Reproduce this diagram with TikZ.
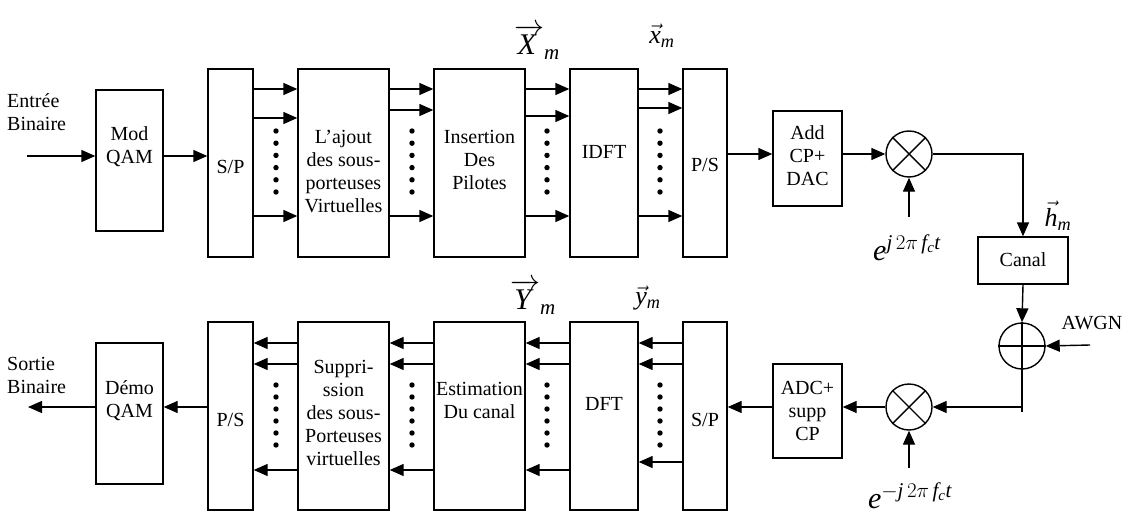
\documentclass[tikz,border=0pt]{standalone}
\usepackage{fix-cm}
\usepackage{fontspec}
\setmainfont{Liberation Serif}
\usetikzlibrary{arrows.meta,calc}
\begin{document}
\begin{tikzpicture}[x=1pt,y=-1pt,
  box/.style={draw, line width=1.4pt, inner sep=0pt},
  txt/.style={align=center, font=\fontsize{20}{23}\selectfont, inner sep=0pt},
  ltxt/.style={align=left, anchor=west, font=\fontsize{20}{23}\selectfont, inner sep=0pt},
  arr/.style={line width=1.4pt, -{Triangle[length=14pt,width=12pt]}},
  ln/.style={line width=1.4pt},
  ring/.style={circle, draw, line width=1.4pt, minimum size=46pt, inner sep=0pt},
  mlab/.style={inner sep=0pt, font=\fontsize{30}{32}\selectfont},
  slab/.style={inner sep=0pt, font=\fontsize{26}{28}\selectfont}]
\useasboundingbox (0,0) rectangle (1124,516);

% ---------- top row boxes ----------
\node[box, minimum width=67pt, minimum height=141pt] (mod) at (129.5,160.5) {};
\node[box, minimum width=45pt, minimum height=188pt] (sp1) at (230.5,163) {};
\node[box, minimum width=91pt, minimum height=188pt] (aj) at (343.5,163) {};
\node[box, minimum width=91pt, minimum height=188pt] (ins) at (479.5,163) {};
\node[box, minimum width=68pt, minimum height=188pt] (idft) at (604,163) {};
\node[box, minimum width=44pt, minimum height=188pt] (ps1) at (705,163) {};
\node[box, minimum width=69pt, minimum height=95pt] (addcp) at (807.5,158.5) {};

% ---------- bottom row boxes ----------
\node[box, minimum width=67pt, minimum height=141pt] (demo) at (129.5,413.5) {};
\node[box, minimum width=45pt, minimum height=188pt] (ps2) at (230.5,416) {};
\node[box, minimum width=91pt, minimum height=188pt] (sup) at (343.5,416) {};
\node[box, minimum width=91pt, minimum height=188pt] (est) at (479.5,416) {};
\node[box, minimum width=68pt, minimum height=188pt] (dft) at (604,416) {};
\node[box, minimum width=44pt, minimum height=188pt] (sp2) at (705,416) {};
\node[box, minimum width=69pt, minimum height=94pt] (adc) at (807.5,411) {};

\node[box, minimum width=90pt, minimum height=47pt] (canal) at (1023,260.5) {};

% ---------- circles ----------
\node[ring] (mixa) at (909,154) {};
\node[ring] (mixb) at (909,407) {};
\node[ring] (sum) at (1022,346) {};
\draw[ln] (mixa.45) -- (mixa.225);
\draw[ln] (mixa.135) -- (mixa.315);
\draw[ln] (mixb.45) -- (mixb.225);
\draw[ln] (mixb.135) -- (mixb.315);
\draw[ln] (sum.west) -- (sum.east);

% ---------- texts in boxes ----------
\node[txt] (modt) at (129.5,147) {Mod\\QAM};
\node[txt] (sp1t) at (230.5,167) {S/P};
\node[txt] (ajt) at (343.5,171) {L'ajout\\des sous-\\porteuses\\Virtuelles};
\node[txt] (inst) at (479.5,160) {Insertion\\Des\\Pilotes};
\node[txt] (idftt) at (604,152) {IDFT};
\node[txt] (ps1t) at (705,165) {P/S};
\node[txt] (addt) at (807.5,156) {Add\\CP+\\DAC};
\node[txt] (canalt) at (1023,260) {Canal};

\node[txt] (demot) at (129.5,401) {Démo\\QAM};
\node[txt] (ps2t) at (230.5,420) {P/S};
\node[txt] (supt) at (343.5,413) {Suppri-\\ssion\\des sous-\\Porteuses\\virtuelles};
\node[txt] (estt) at (479.5,400) {Estimation\\Du canal};
\node[txt] (dftt) at (604,404) {DFT};
\node[txt] (sp2t) at (705,420) {S/P};
\node[txt] (adct) at (807.5,411) {ADC+\\supp\\CP};

% ---------- outside labels ----------
\node[ltxt] (inlab) at (7,112) {Entrée\\Binaire};
\node[ltxt] (outlab) at (7,375) {Sortie\\Binaire};
\node[txt] (awgnlab) at (1092,323) {AWGN};
\node[mlab] (Xm) at (537,42) {$\overrightarrow{\mathit{X}\mkern3mu}_{\mathit{m}}$};
\node[slab] (xm) at (662,36) {$\vec{\mathit{x}}_{\mathit{m}}$};
\node[mlab] (Ym) at (533,297) {$\overrightarrow{\mathit{Y}\mkern3mu}_{\mathit{m}}$};
\node[slab] (ym) at (648,298) {$\vec{\mathit{y}}_{\mathit{m}}$};
\node[slab] (hm) at (1058,216) {$\vec{\mathit{h}}_{\mathit{m}}$};
\node[mlab] (ej1) at (907,248) {$\mathit{e}^{\mathit{j}\,2\pi\, \mathit{f}_{\mathit{c}}\mathit{t}}$};
\node[mlab] (ej2) at (910,496) {$\mathit{e}^{-\mathit{j}\,2\pi\, \mathit{f}_{\mathit{c}}\mathit{t}}$};

% ---------- top parallel arrows ----------
\foreach \a/\b/\yy in {sp1/aj/118, aj/ins/110, ins/idft/116, idft/ps1/108} {
  \draw[arr] (\a.east |- 0,89) -- (\b.west |- 0,89);
  \draw[arr] (\a.east |- 0,\yy) -- (\b.west |- 0,\yy);
  \draw[arr] (\a.east |- 0,216) -- (\b.west |- 0,216);
}
% ---------- bottom parallel arrows ----------
\foreach \a/\b/\yy in {sup/ps2/470, est/sup/470, dft/est/470, sp2/dft/462} {
  \draw[arr] (\a.west |- 0,343) -- (\b.east |- 0,343);
  \draw[arr] (\a.west |- 0,364) -- (\b.east |- 0,364);
  \draw[arr] (\a.west |- 0,\yy) -- (\b.east |- 0,\yy);
}
% ---------- dots ----------
\foreach \x in {276,412,547,660} {
  \foreach \k in {0,...,5} {
    \fill (\x,{131+\k*12.2}) circle (2.7pt);
    \fill (\x,{385+\k*12}) circle (2.7pt);
  }
}

% ---------- chain connectors ----------
\coordinate (in) at (27,156);
\draw[arr] (in) -- (mod.west |- in);
\draw[arr] (mod.east |- in) -- (sp1.west |- in);
\coordinate (out) at (28,407);
\draw[arr] (ps2.west |- out) -- (demo.east |- out);
\draw[arr] (demo.west |- out) -- (out);

\draw[arr] (ps1.east |- mixa) -- (addcp.west |- mixa);
\draw[arr] (addcp.east |- mixa) -- (mixa.west);
\draw[arr] (mixa.east) -| (canal.north);
\draw[arr] (canal.south) -- (sum.north);
\coordinate (c2) at (1022,407);
\coordinate (c2low) at (1022,412);
\draw[ln] (sum.north) -- (c2low);
\draw[arr] (c2) -- (mixb.east);
\draw[arr] (mixb.west) -- (adc.east |- mixb);
\draw[arr] (adc.west |- mixb) -- (sp2.east |- mixb);
\coordinate (awgn) at (1090,345);
\draw[arr] (awgn) -- (sum.east);
\coordinate (lo1) at (909,217);
\draw[arr] (lo1) -- (mixa.south);
\coordinate (lo2) at (909,468);
\draw[arr] (lo2) -- (mixb.south);
\end{tikzpicture}
\end{document}
